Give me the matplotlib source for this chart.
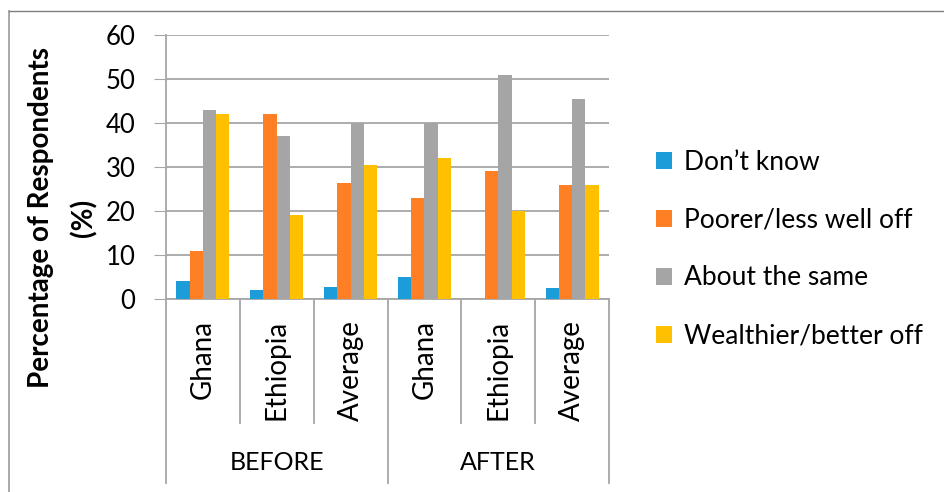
import numpy as np
import matplotlib
matplotlib.use('Agg')
import matplotlib.pyplot as plt
from matplotlib.lines import Line2D
from matplotlib.patches import Patch
import matplotlib.transforms as mtrans

plt.rcParams['font.family'] = ['Lato', 'DejaVu Sans']

# --- data ---
countries = ['Ghana', 'Ethiopia', 'Average', 'Ghana', 'Ethiopia', 'Average']
periods = ['BEFORE', 'AFTER']
series = ['Don\u2019t know', 'Poorer/less well off', 'About the same', 'Wealthier/better off']
dont_know = [4, 2, 2.8, 5, 0, 2.5]
poorer = [11, 42, 26.3, 23, 29, 26]
same = [43, 37, 40, 40, 51, 45.5]
wealthier = [42, 19, 30.4, 32, 20, 26]

COLORS = ['#1C9CD8', '#FF7F24', '#A5A5A5', '#FFC000']
GRID = '#A6A6A6'

fig = plt.figure(figsize=(9.44, 4.92), dpi=100)
ax = fig.add_axes([166/944, 1-299/492, (609-166)/944, (299-35)/492])

xs = np.arange(len(countries))
w = 0.18
for i, (vals, col) in enumerate(zip([dont_know, poorer, same, wealthier], COLORS)):
    ax.bar(xs + (i-1.5)*w, vals, w, color=col, zorder=3)

ax.set_xlim(-0.5, len(countries)-0.5)
ax.set_ylim(0, 60)
ax.set_yticks(range(0, 61, 10))
ax.tick_params(axis='y', labelsize=18.5, length=9, color=GRID, pad=13)
ax.tick_params(axis='x', length=0, labelbottom=False)
ax.grid(axis='y', color=GRID, lw=1.3, zorder=0)
for s in ['top', 'right']:
    ax.spines[s].set_visible(False)
ax.spines['bottom'].set_color(GRID)
ax.spines['bottom'].set_linewidth(1.3)
ax.spines['left'].set_visible(False)

# category axis separators
trans = mtrans.blended_transform_factory(ax.transData, ax.transAxes)
axh = 299-35
inner_low = -(423-299)/axh
outer_low = -(483-299)/axh
for b in np.arange(-0.5, len(countries), 1.0):
    low = outer_low if b in (-0.5, 2.5, 5.5) else inner_low
    top = 1.0 if b == -0.5 else 0.0
    ax.add_line(Line2D([b, b], [low, top], transform=trans, color=GRID, lw=1.3, clip_on=False))

for x, c in zip(xs, countries):
    ax.text(x, -(320-299)/axh, c, transform=trans, rotation=90, ha='center', va='top', fontsize=20)
for j, p in enumerate(periods):
    ax.text(1 + 3*j, -(463-299)/axh, p, transform=trans, ha='center', va='center', fontsize=18)

fig.text(63/944, 1-218/492, 'Percentage of Respondents\n(%)', rotation=90, ha='center', va='center',
         fontsize=20, fontweight='bold', linespacing=1.75)

handles = [Patch(facecolor=c, edgecolor='none') for c in COLORS]
fig.legend(handles, series, loc='center left', bbox_to_anchor=(656/944, 1-249/492), frameon=False,
           fontsize=19, handlelength=0.6, handleheight=0.6, handletextpad=0.45, labelspacing=1.25,
           borderpad=0, borderaxespad=0)

# outer chart border
fig.add_artist(Line2D([9/944, 9/944], [0, 1-11/492], transform=fig.transFigure, color='#9A9A9A', lw=1.2))
fig.add_artist(Line2D([9/944, 1], [1-11/492, 1-11/492], transform=fig.transFigure, color='#7F7F7F', lw=1))

fig.savefig('out.png', dpi=100)
